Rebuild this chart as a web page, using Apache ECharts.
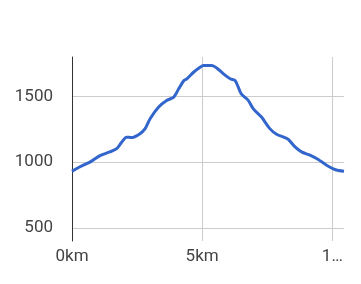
<!DOCTYPE html>
<html><head><meta charset="utf-8">
<script src="https://cdn.jsdelivr.net/npm/echarts@6/dist/echarts.min.js"></script>
<style>html,body{margin:0;padding:0;background:#fff}#c{width:361px;height:284px}</style>
</head><body><div id="c"></div>
<script>
var distanceKm = [0,0.31,0.69,1.08,1.45,1.72,1.9,2.1,2.28,2.6,2.81,3.0,3.33,3.65,3.91,4.1,4.3,4.41,4.67,4.92,5.05,5.37,5.57,5.82,6.08,6.27,6.5,6.77,6.96,7.28,7.6,7.86,8.18,8.31,8.57,8.82,9.14,9.46,9.78,10.1,10.45];
var elevation = [930,965,1000,1050,1078,1103,1150,1190,1187,1215,1255,1330,1419,1470,1495,1558,1621,1634,1684,1722,1735,1735,1715,1672,1634,1621,1520,1470,1407,1343,1255,1212,1187,1174,1116,1078,1053,1020,977,944,930];
var xTicks = [0,5,10];
var xTickLabels = ['0km','5km','1…'];
var yTicks = [500,1000,1500];

var chart = echarts.init(document.getElementById('c'));
chart.setOption({
  animation:false,
  grid:{left:72,top:57,right:17,bottom:43},
  xAxis:{type:'value',min:0,max:10.45,
    axisLine:{show:false},axisTick:{show:false,customValues:xTicks},
    splitLine:{show:true,lineStyle:{color:'#cccccc',width:1}},
    axisLabel:{customValues:xTicks,formatter:function(v){return xTickLabels[xTicks.indexOf(v)];},color:'#444',fontFamily:'Roboto',fontSize:17,margin:7}
  },
  yAxis:{type:'value',min:400,max:1800,
    axisLine:{show:true,onZero:false,lineStyle:{color:'#333',width:1}},
    axisTick:{show:false,customValues:yTicks},
    splitLine:{show:true,lineStyle:{color:'#cccccc',width:1}},
    axisLabel:{customValues:yTicks,formatter:function(v){return String(v);},color:'#444',fontFamily:'Roboto',fontSize:17,margin:19}
  },
  series:[{type:'line',data:distanceKm.map(function(d,i){return [d,elevation[i]];}),
    showSymbol:false,smooth:0.3,lineStyle:{color:'#3366cc',width:3}}]
});
</script></body></html>
